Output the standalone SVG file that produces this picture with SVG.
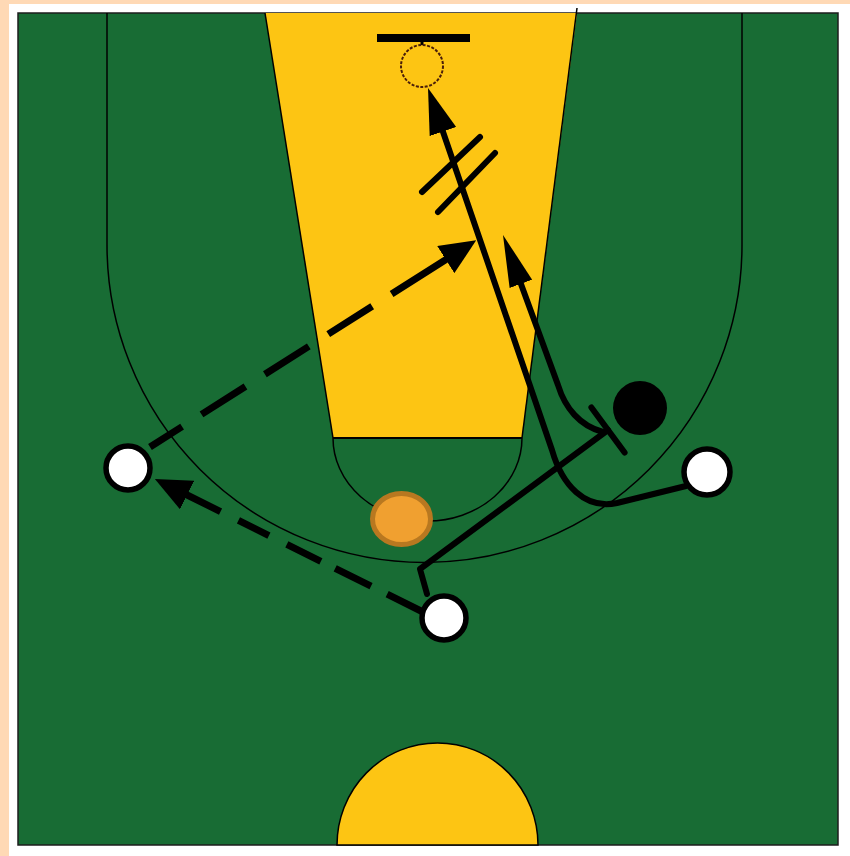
<svg xmlns="http://www.w3.org/2000/svg" width="850" height="856" viewBox="0 0 850 856">
  <style>
    .court-line { fill: none; stroke: #000; stroke-width: 1.5; }
    .player { fill: #fff; stroke: #000; stroke-width: 5.5; }
    .move { fill: none; stroke: #000; stroke-width: 6; stroke-linecap: round; stroke-linejoin: round; }
    .pass { fill: none; stroke: #000; stroke-width: 7; stroke-linecap: butt; }
  </style>
  <defs>
    <marker id="ahSolid" viewBox="0 0 46 28" refX="26" refY="14" markerWidth="46" markerHeight="28" markerUnits="userSpaceOnUse" orient="auto">
      <path d="M0,0 L46,14 L0,28 z" fill="#000"/>
    </marker>
    <marker id="ahLong" viewBox="0 0 52 24" refX="32" refY="12" markerWidth="52" markerHeight="24" markerUnits="userSpaceOnUse" orient="auto">
      <path d="M0,0 L52,12 L0,24 z" fill="#000"/>
    </marker>
    <marker id="ahDash" viewBox="0 0 36 32" refX="18" refY="16" markerWidth="36" markerHeight="32" markerUnits="userSpaceOnUse" orient="auto">
      <path d="M0,0 L36,16 L0,32 z" fill="#000"/>
    </marker>
  </defs>

  <!-- page background -->
  <rect x="0" y="0" width="850" height="856" fill="#fff"/>
  <rect x="0" y="0" width="850" height="4" fill="#ffd9b5"/>
  <rect x="0" y="0" width="9" height="856" fill="#ffd9b5"/>

  <!-- court -->
  <g id="court">
    <rect x="18" y="13" width="820" height="832" fill="#186c34" stroke="#1c1c1c" stroke-width="1.5"/>
    <polygon points="265,13 577,13 522,438 333,438" fill="#fdc513"/>
    <line class="court-line" x1="265" y1="13" x2="333" y2="438"/>
    <line class="court-line" x1="577" y1="8" x2="522" y2="438"/>
    <line x1="333" y1="438" x2="522" y2="438" stroke="#000" stroke-width="2"/>
    <path class="court-line" d="M333,438 A94.5,83 0 0 0 522,438"/>
    <path class="court-line" d="M107,13 L107,245 A317.5,317.5 0 0 0 742,245 L742,13"/>
    <path d="M337,845 A100.5,102 0 0 1 538,845 Z" fill="#fdc513" stroke="#000" stroke-width="1.5"/>
    <rect x="377" y="34" width="93" height="8" fill="#000"/>
    <line x1="422" y1="42" x2="422" y2="45" stroke="#000" stroke-width="3"/>
    <circle cx="422" cy="66" r="21" fill="none" stroke="#4a1e0a" stroke-width="2" stroke-dasharray="3 1.5"/>
  </g>

  <!-- connectors -->
  <g id="connectors">
    <!-- cut to the basket from right wing -->
    <path class="move" d="M686,486 L617,503 C585,510 562,485 552,450 L434.5,107" marker-end="url(#ahSolid)"/>
    <line class="move" x1="422" y1="192" x2="480" y2="137"/>
    <line class="move" x1="438" y1="212" x2="495" y2="153"/>
    <!-- screen from bottom player -->
    <path class="move" d="M427,594 L420,569 L608,430"/>
    <line class="move" x1="591.4" y1="407.5" x2="624.6" y2="452.5"/>
    <!-- roll after screen -->
    <path class="move" d="M603,432 C580,426 565,408 558,385 L509.9,253.8" marker-end="url(#ahLong)"/>
    <!-- pass left wing to post -->
    <line class="pass" x1="150" y1="447" x2="461" y2="250" stroke-dasharray="38 23 52 23 52 23 52 23 200" marker-end="url(#ahDash)"/>
    <!-- pass bottom to left wing -->
    <line class="pass" x1="423" y1="612" x2="171" y2="487" stroke-dasharray="40 18 40 16 38 20 34 20 60" marker-end="url(#ahDash)"/>
  </g>

  <!-- nodes -->
  <g id="player-left"><circle class="player" cx="128" cy="468" r="22"/></g>
  <g id="player-bottom"><circle class="player" cx="444" cy="618" r="22"/></g>
  <g id="player-right"><circle class="player" cx="707" cy="472" r="23"/></g>
  <g id="defender"><circle cx="640" cy="408" r="27" fill="#000"/></g>
  <g id="ball"><ellipse cx="401.5" cy="519" rx="29" ry="25.5" fill="#f0a030" stroke="#b87820" stroke-width="5"/></g>
</svg>
